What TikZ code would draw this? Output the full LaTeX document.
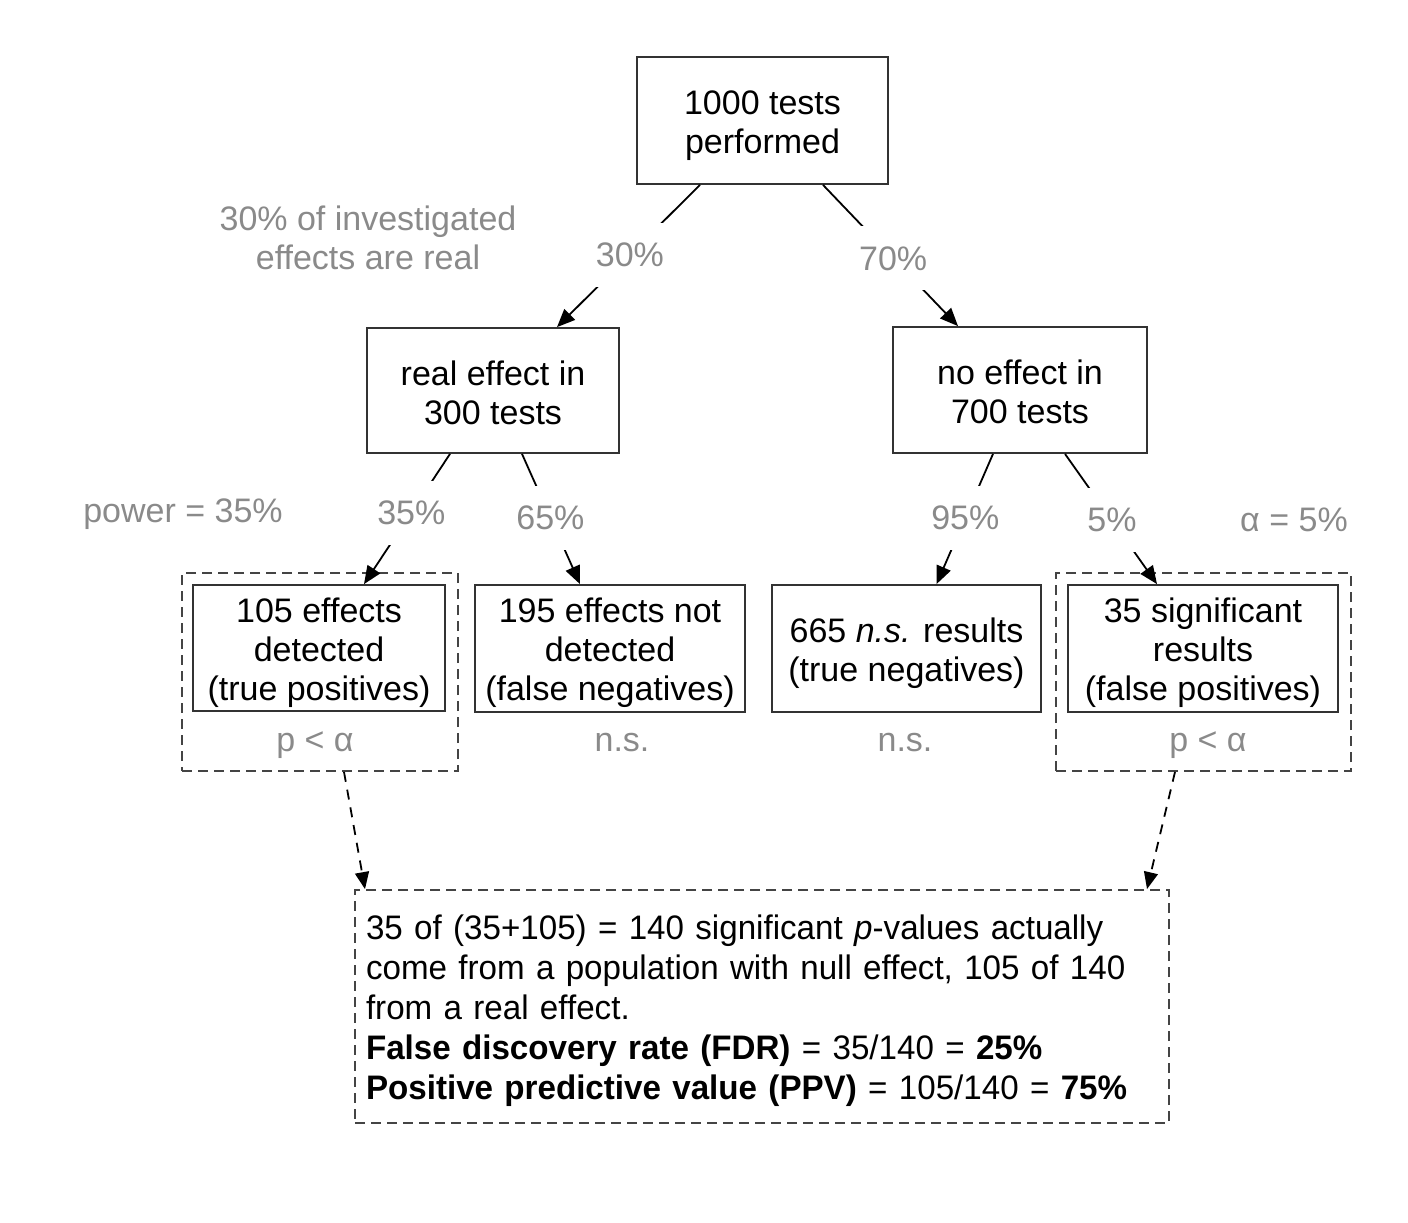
\documentclass[tikz,border=0pt]{standalone}
\usepackage{fontspec}
\setmainfont{Liberation Sans}
\newfontfamily\narrowf[FakeStretch=0.975]{Liberation Sans}
\usetikzlibrary{arrows.meta,calc}
\definecolor{lbl}{HTML}{8A8A8A}
\definecolor{edge}{HTML}{333333}
\definecolor{dsh}{HTML}{444444}
\newcommand\Bs{\rule{0pt}{17pt}}
\newcommand\Es{\rule[-3pt]{0pt}{0pt}}
\begin{document}
\begin{tikzpicture}[x=0.5pt,y=-0.5pt,
  every node/.style={font=\fontsize{17pt}{19.5pt}\selectfont},
  box/.style={draw=edge,line width=0.9pt,align=center,inner sep=0pt,text=black},
  grp/.style={draw=dsh,line width=0.9pt,dash pattern=on 5pt off 3pt,inner sep=0pt},
  lab/.style={text=lbl,align=center,inner sep=1pt},
  onl/.style={text=lbl,fill=white,inner xsep=1pt,inner ysep=0pt,minimum height=32pt},
  conn/.style={draw=black,line width=0.9pt},
  arr/.style={conn,-{Triangle[length=9pt,width=7.5pt]}},
  darr/.style={draw=black,line width=0.9pt,dash pattern=on 5pt off 4pt,-{Triangle[length=8.5pt,width=7pt]}}
]
\useasboundingbox (0,0) rectangle (1408,1222);
% group boxes
\node[grp,minimum width=138pt,minimum height=99pt] (tpgrp) at (320,672) {};
\node[grp,minimum width=147.5pt,minimum height=99pt] (fpgrp) at (1203.5,672) {};
% main boxes
\node[box,minimum width=125.5pt,minimum height=63.5pt] (top) at (762.5,120.5) {\Bs 1000 tests\\performed\Es};
\node[box,minimum width=126pt,minimum height=62.5pt] (real) at (493,390.5) {\Bs real effect in\\300 tests\Es};
\node[box,minimum width=127pt,minimum height=63pt] (no) at (1020,390) {\Bs no effect in\\700 tests\Es};
\node[box,minimum width=126pt,minimum height=63pt] (tp) at (319,648) {\Bs 105 effects\\detected\\(true positives)\Es};
\node[box,minimum width=135pt,minimum height=63.5pt] (fn) at (610,648.5) {\Bs 195 effects not\\detected\\(false negatives)\Es};
\node[box,minimum width=134.5pt,minimum height=63.5pt] (tn) at (906.5,648.5) {\Bs 665 \textit{n.s.} results\\(true negatives)\Es};
\node[box,minimum width=135pt,minimum height=63.5pt] (fp) at (1203,648.5) {\Bs 35 significant\\results\\(false positives)\Es};
% bottom box
\node[grp,minimum width=407pt,minimum height=116.5pt,text width=396pt,align=left,inner xsep=5.5pt,inner ysep=0pt,
  font=\narrowf\fontsize{17pt}{20pt}\selectfont] (out) at (762,1006.5)
  {\Bs 35 of (35+105) = 140 significant \textit{p}-values actually\\
   come from a population with null effect, 105 of 140\\
   from a real effect.\\
   \textbf{False discovery rate (FDR)} = 35/140 = \textbf{25\%}\\
   \textbf{Positive predictive value (PPV)} = 105/140 = \textbf{75\%}\Es};
% side labels
\node[lab] (l1) at (368,238) {30\% of investigated\\effects are real};
\node[lab] (l2) at (183,514) {power = 35\%};
\node[lab] (l3) at (1294,520) {α = 5\%};
\node[lab] (p1) at (315,745) {p < α};
\node[lab] (p2) at (1208,745) {p < α};
\node[lab] (n1) at (622,743) {n.s.};
\node[lab] (n2) at (905,743) {n.s.};
% connectors
\draw[arr] ($(top.south)+(-62.5,0)$) -- node[onl,pos=0.49] {30\%} ($(real.north)+(64,0)$);
\draw[arr] ($(top.south)+(60.5,0)$) -- node[onl,pos=0.52] {70\%} ($(no.north)+(-62,0)$);
\draw[arr] ($(real.south)+(-43,0)$) -- node[onl,pos=0.45] {35\%} ($(tp.north)+(45,0)$);
\draw[arr] ($(real.south)+(29,0)$) -- node[onl,pos=0.49] {65\%} ($(fn.north)+(-30,0)$);
\draw[arr] ($(no.south)+(-27,0)$) -- node[onl,pos=0.49] {95\%} ($(tn.north)+(30,0)$);
\draw[arr] ($(no.south)+(45,0)$) -- node[onl,pos=0.51] {5\%} ($(fp.north)+(-46,0)$);
\draw[darr] ($(tpgrp.south)+(24,0)$) -- ($(out.north)+(-397,0)$);
\draw[darr] ($(fpgrp.south)+(-28.5,0)$) -- ($(out.north)+(385,0)$);
\end{tikzpicture}
\end{document}
